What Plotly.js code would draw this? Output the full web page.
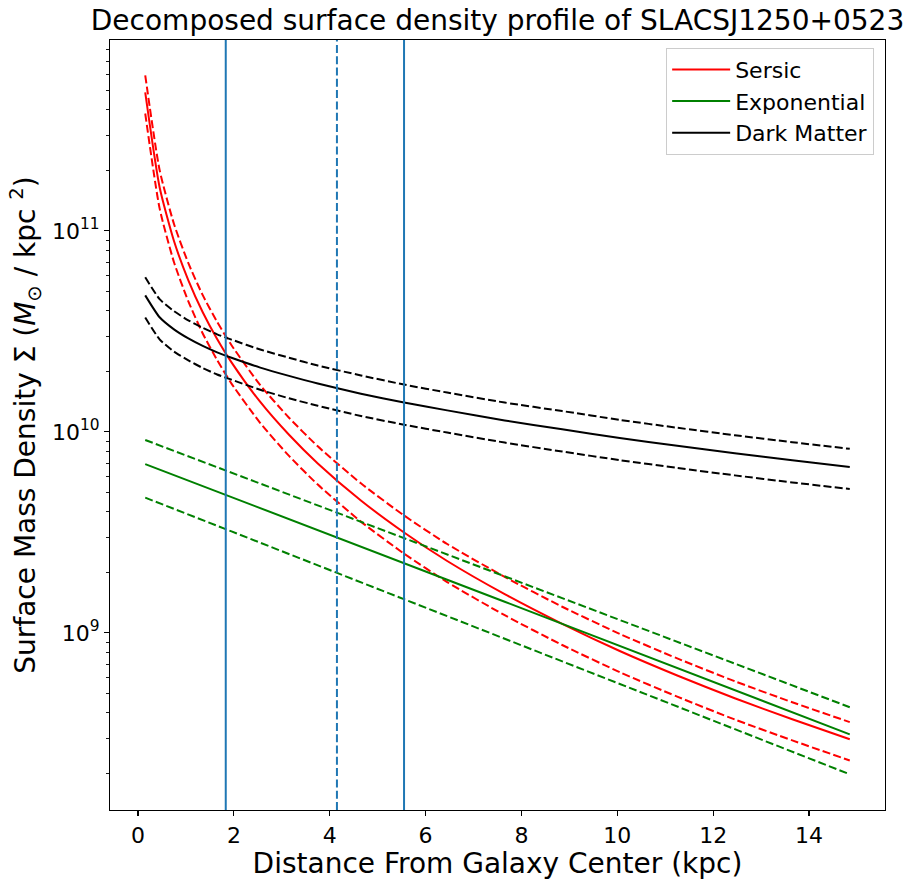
<!DOCTYPE html>
<html>
<head>
<meta charset="utf-8">
<script src="https://cdn.plot.ly/plotly-3.0.1.min.js"></script>
<style>
  html, body { margin: 0; padding: 0; background: #ffffff; }
  #chart { width: 911px; height: 883px; }
</style>
</head>
<body>
<div id="chart"></div>
<script>
// Radius grid (kpc)
const radius = [0.15, 0.45, 0.75, 1.05, 1.35, 1.65, 1.95, 2.55, 3.15, 3.75,
                4.65, 5.55, 6.45, 7.65, 8.85, 10.05, 11.25, 12.45, 13.65, 14.85];

// Sersic bulge: best fit and bounds (M_sun / kpc^2)
const sersic = [4.89e11, 1.65e11, 8.91e10, 5.68e10, 3.94e10, 2.90e10, 2.22e10, 1.41e10, 9.68e9, 6.97e9,
                4.56e9, 3.16e9, 2.28e9, 1.56e9, 1.11e9, 8.13e8, 6.14e8, 4.73e8, 3.72e8, 2.96e8];
const sersicHigh = [5.95e11, 2.01e11, 1.083e11, 6.91e10, 4.79e10, 3.53e10, 2.70e10, 1.71e10, 1.177e10, 8.48e9,
                    5.55e9, 3.84e9, 2.77e9, 1.90e9, 1.35e9, 9.89e8, 7.47e8, 5.75e8, 4.52e8, 3.60e8];
const sersicLow = [3.84e11, 1.295e11, 6.99e10, 4.46e10, 3.09e10, 2.28e10, 1.74e10, 1.107e10, 7.60e9, 5.47e9,
                   3.58e9, 2.48e9, 1.79e9, 1.225e9, 8.71e8, 6.38e8, 4.82e8, 3.71e8, 2.92e8, 2.32e8];

// Exponential disk: best fit and bounds
const expo = [6.92e9, 6.50e9, 6.10e9, 5.72e9, 5.37e9, 5.05e9, 4.74e9, 4.17e9, 3.68e9, 3.24e9,
              2.68e9, 2.22e9, 1.84e9, 1.43e9, 1.11e9, 8.60e8, 6.68e8, 5.19e8, 4.03e8, 3.13e8];
const expoHigh = [9.12e9, 8.57e9, 8.05e9, 7.56e9, 7.10e9, 6.67e9, 6.27e9, 5.53e9, 4.88e9, 4.31e9,
                  3.57e9, 2.96e9, 2.45e9, 1.91e9, 1.49e9, 1.16e9, 9.03e8, 7.03e8, 5.48e8, 4.27e8];
const expoLow = [4.71e9, 4.41e9, 4.14e9, 3.88e9, 3.64e9, 3.41e9, 3.20e9, 2.81e9, 2.47e9, 2.17e9,
                 1.79e9, 1.47e9, 1.21e9, 9.35e8, 7.22e8, 5.58e8, 4.31e8, 3.32e8, 2.57e8, 1.98e8];

// Dark matter halo: best fit and bounds
const darkMatter = [4.78e10, 3.72e10, 3.24e10, 2.92e10, 2.68e10, 2.49e10, 2.34e10, 2.09e10, 1.90e10, 1.74e10,
                    1.55e10, 1.40e10, 1.28e10, 1.14e10, 1.03e10, 9.33e9, 8.53e9, 7.83e9, 7.23e9, 6.70e9];
const darkMatterHigh = [5.88e10, 4.58e10, 3.99e10, 3.59e10, 3.30e10, 3.06e10, 2.88e10, 2.57e10, 2.34e10, 2.14e10,
                        1.91e10, 1.72e10, 1.57e10, 1.40e10, 1.27e10, 1.148e10, 1.049e10, 9.63e9, 8.89e9, 8.24e9];
const darkMatterLow = [3.71e10, 2.89e10, 2.51e10, 2.27e10, 2.08e10, 1.93e10, 1.82e10, 1.62e10, 1.47e10, 1.35e10,
                       1.20e10, 1.086e10, 9.93e9, 8.85e9, 7.99e9, 7.24e9, 6.62e9, 6.08e9, 5.61e9, 5.20e9];

// Vertical reference radii (kpc): solid, dashed, solid
const markerRadii = [1.83, 4.15, 5.55];
const markerDash = ["solid", "dash", "solid"];

// Axis ticks
const xTicks = [0, 2, 4, 6, 8, 10, 12, 14];
const yTicks = [1e9, 1e10, 1e11];
const yTickText = ["10<sup>9</sup>", "10<sup>10</sup>", "10<sup>11</sup>"];
const yMinorTicks = [2e8, 3e8, 4e8, 5e8, 6e8, 7e8, 8e8, 9e8,
                     2e9, 3e9, 4e9, 5e9, 6e9, 7e9, 8e9, 9e9,
                     2e10, 3e10, 4e10, 5e10, 6e10, 7e10, 8e10, 9e10,
                     2e11, 3e11, 4e11, 5e11, 6e11, 7e11, 8e11, 9e11];

const FONT = "DejaVu Sans, Liberation Sans, sans-serif";
const DASH = "8px,3.3px";

function curve(y, color, name, dashed, smooth) {
  return {
    x: radius, y: y, type: "scatter", mode: "lines",
    name: name, showlegend: !dashed,
    line: { color: color, width: 2, dash: dashed ? DASH : "solid",
            shape: smooth ? "spline" : "linear", smoothing: 0.6 },
    hoverinfo: "skip"
  };
}

const traces = [
  curve(sersic, "#ff0000", "Sersic", false, true),
  curve(sersicHigh, "#ff0000", "Sersic upper", true, true),
  curve(sersicLow, "#ff0000", "Sersic lower", true, true),
  curve(expo, "#008000", "Exponential", false, false),
  curve(expoHigh, "#008000", "Exponential upper", true, false),
  curve(expoLow, "#008000", "Exponential lower", true, false),
  curve(darkMatter, "#000000", "Dark Matter", false, true),
  curve(darkMatterHigh, "#000000", "Dark Matter upper", true, true),
  curve(darkMatterLow, "#000000", "Dark Matter lower", true, true)
];

const shapes = markerRadii.map((r, i) => ({
  type: "line", xref: "x", yref: "paper",
  x0: r, x1: r, y0: 0, y1: 1, layer: "above",
  line: { color: "#1f77b4", width: 2, dash: markerDash[i] === "dash" ? DASH : "solid" }
}));

const layout = {
  width: 911, height: 883,
  margin: { l: 110, r: 26, t: 40, b: 73, pad: 0 },
  paper_bgcolor: "#ffffff", plot_bgcolor: "#ffffff",
  font: { family: FONT, color: "#000000", size: 22 },
  title: {
    text: "Decomposed surface density profile of SLACSJ1250+0523",
    font: { family: FONT, size: 28, color: "#000000" },
    xref: "paper", x: 0.5, xanchor: "center",
    yref: "container", y: 1 - 20 / 883, yanchor: "middle"
  },
  xaxis: {
    range: [-0.585, 15.585],
    tickmode: "array", tickvals: xTicks,
    ticks: "outside", ticklen: 5, tickwidth: 1.1, tickcolor: "#000000",
    showline: true, linecolor: "#000000", linewidth: 1.1, mirror: true,
    showgrid: false, zeroline: false,
    tickfont: { family: FONT, size: 22 },
    title: { text: "Distance From Galaxy Center (kpc)", font: { family: FONT, size: 28 }, standoff: 4 }
  },
  yaxis: {
    type: "log",
    range: [8.119, 11.950],
    tickmode: "array", tickvals: yTicks, ticktext: yTickText,
    ticks: "outside", ticklen: 5, tickwidth: 1.1, tickcolor: "#000000",
    minor: { tickmode: "array", tickvals: yMinorTicks, ticks: "outside", ticklen: 3, tickwidth: 0.9, tickcolor: "#000000", showgrid: false },
    showline: true, linecolor: "#000000", linewidth: 1.1, mirror: true,
    showgrid: false, zeroline: false,
    tickfont: { family: FONT, size: 22 },
    title: { text: "Surface Mass Density Σ (<i>M</i><sub>⊙</sub> / kpc <sup>2</sup>)", font: { family: FONT, size: 28 }, standoff: 8 }
  },
  legend: {
    x: 0.986, y: 0.99, xanchor: "right", yanchor: "top",
    bgcolor: "rgba(255,255,255,0.8)", bordercolor: "#cccccc", borderwidth: 1,
    itemwidth: 58,
    font: { family: FONT, size: 22 }
  },
  shapes: shapes,
  showlegend: true
};

Plotly.newPlot("chart", traces, layout, { displayModeBar: false, staticPlot: true });
</script>
</body>
</html>
